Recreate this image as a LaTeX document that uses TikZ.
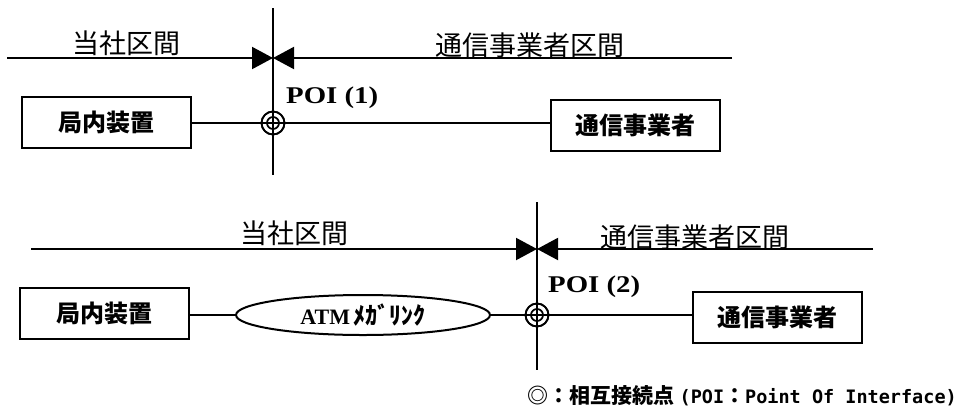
\documentclass[tikz,border=0pt]{standalone}
\usepackage{fontspec}
\usetikzlibrary{arrows.meta,shapes.geometric}
\newfontfamily\jp{Noto Sans CJK JP}
\newfontfamily\poif[FakeStretch=1.2]{Liberation Serif}
\newfontfamily\atmf{Liberation Serif}
\newfontfamily\monof{DejaVu Sans Mono}
\begin{document}
\begin{tikzpicture}[x=1pt,y=-1pt,
  box/.style={draw,line width=2pt,minimum width=169pt,minimum height=51pt,inner sep=0pt,font=\jp\bfseries\fontsize{24}{28}\selectfont},
  sec/.style={font=\jp\fontsize{27}{30}\selectfont,inner sep=0pt},
  ln/.style={line width=2pt},
  arr/.style={ln,-{Triangle[length=21pt,width=22pt]}},
  poi/.style={font=\poif\bfseries\fontsize{24}{28}\selectfont,inner sep=0pt,anchor=west},
  ring/.style={circle,draw,line width=1.7pt,minimum size=23pt,inner sep=0pt},
  inring/.style={circle,draw,line width=1.7pt,minimum size=12pt,inner sep=0pt}]
\fill[white] (0,0) rectangle (960,413);
\useasboundingbox (0,0) rectangle (960,413);

% ---------- top ----------
\node[sec] (s1l) at (126,43) {当社区間};
\node[sec] (s1r) at (530,45) {通信事業者区間};
\coordinate (l1a) at (7,58);
\coordinate (l1b) at (732,58);
\coordinate (x1) at (273,58);
\draw[arr] (l1a) -- (x1);
\draw[arr] (l1b) -- (x1);
\coordinate (v1t) at (273,8);
\coordinate (v1b) at (273,175);
\draw[ln] (v1t) -- (v1b);
\node[box] (b1) at (106,122) {局内装置};
\node[box] (b2) at (635,125) {通信事業者};
\node[ring] (c1) at (273,123) {};
\draw[ln] (b1.east |- c1) -- (c1.center) -- (c1.center -| b2.west);
\node[ring] at (c1) {};
\node[inring] (c1i) at (c1) {};
\node[poi] (p1) at (286,98) {POI (1)};

% ---------- bottom ----------
\node[sec] (s2l) at (294,233) {当社区間};
\node[sec] (s2r) at (695,237) {通信事業者区間};
\coordinate (l2a) at (31,249);
\coordinate (l2b) at (873,249);
\coordinate (x2) at (537,249);
\draw[arr] (l2a) -- (x2);
\draw[arr] (l2b) -- (x2);
\coordinate (v2t) at (537,202);
\coordinate (v2b) at (537,370);
\draw[ln] (v2t) -- (v2b);
\node[box] (b3) at (104.5,313) {局内装置};
\node[ellipse,draw,line width=2pt,minimum width=254pt,minimum height=40pt,inner sep=0pt] (atm) at (363,315)
  {{\atmf\bfseries\fontsize{22}{26}\selectfont ATM} {\jp\bfseries\fontsize{24}{28}\selectfont ﾒｶﾞﾘﾝｸ}};
\node[box] (b4) at (777.5,317) {通信事業者};
\node[ring] (c2) at (537,315) {};
\draw[ln] (b3.east |- atm.west) -- (atm.west);
\draw[ln] (atm.east) -- (c2.center) -- (c2.center -| b4.west);
\node[ring] at (c2) {};
\node[inring] (c2i) at (c2) {};
\node[poi] (p2) at (548,287) {POI (2)};

% ---------- legend ----------
\node[anchor=east,inner sep=0pt] (leg) at (957,396)
  {{\jp\bfseries\fontsize{21}{24}\selectfont ◎：相互接続点 }{\monof\bfseries\fontsize{18.5}{22}\selectfont (POI}{\jp\bfseries\fontsize{21}{24}\selectfont ：}{\monof\bfseries\fontsize{18.5}{22}\selectfont Point Of Interface)}};
\end{tikzpicture}
\end{document}
